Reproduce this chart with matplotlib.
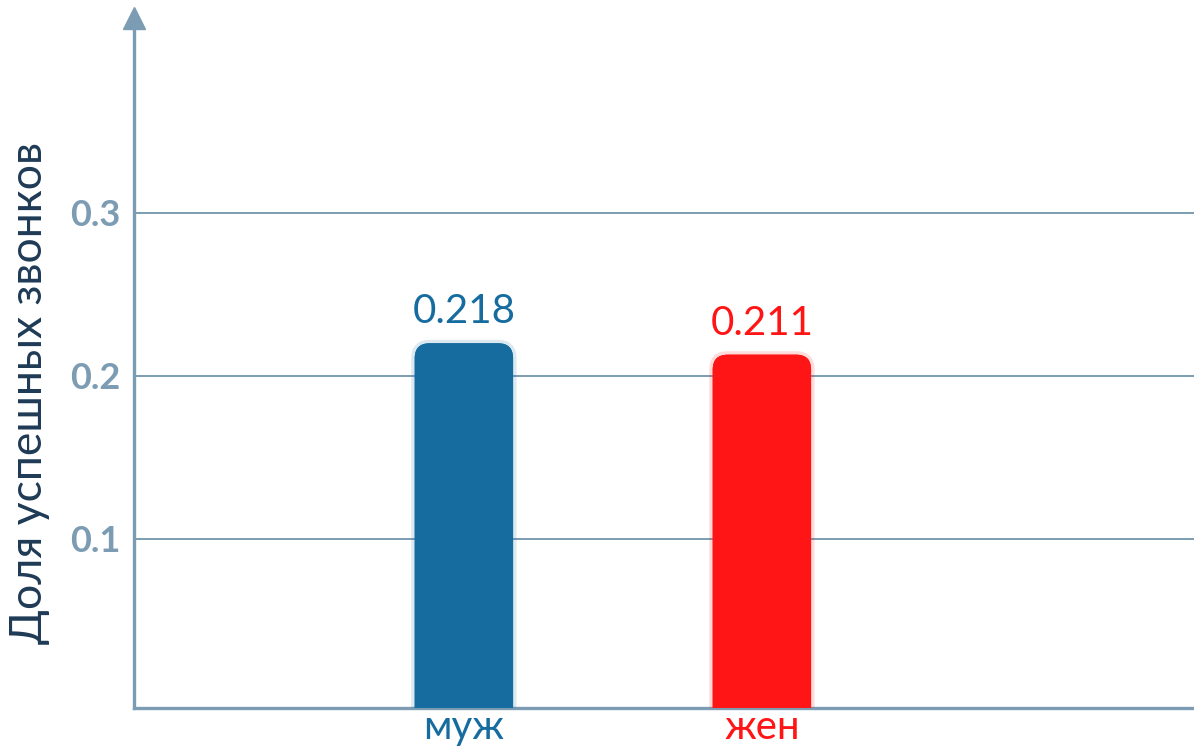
import matplotlib
matplotlib.use('Agg')
import matplotlib.pyplot as plt
from matplotlib.patches import FancyBboxPatch
import matplotlib.patheffects as pe

plt.rcParams['font.family'] = ['Lato', 'Open Sans', 'DejaVu Sans']

categories = ['муж', 'жен']
shares = [0.218, 0.211]
colors = ['#166c9f', '#ff1515']
yticks = [0.1, 0.2, 0.3]

axis_col = '#7b9cb2'

fig = plt.figure(figsize=(11.94, 7.51), dpi=100)
ax = fig.add_axes([134 / 1194, 43 / 751, 1 - 134 / 1194, 690 / 751])
ymin, ymax = -0.0037, 0.4195
ax.set_xlim(-1.107, 2.45)
ax.set_ylim(ymin, ymax)

# scale ratio so rounded corners look circular
x_per_px = (2.45 + 1.107) / (1194 - 134)
y_per_px = (ymax - ymin) / 690
aspect = y_per_px / x_per_px

bars = ax.bar(range(len(categories)), shares, width=0.33, color=colors)
for b, c, v in zip(bars, colors, shares):
    b.set_visible(False)
    x0, w, h = b.get_x(), b.get_width(), b.get_height()
    p = FancyBboxPatch((x0, -0.05), w, h + 0.05 + 0.002,
                       boxstyle='round,pad=0,rounding_size=0.05',
                       mutation_aspect=aspect, facecolor=c, edgecolor='none',
                       zorder=3)
    p.set_path_effects([pe.withStroke(linewidth=5, foreground=c, alpha=0.15),
                        pe.Normal()])
    ax.add_patch(p)
    ax.text(x0 + w / 2, h + 0.01, f'{v:.3f}', ha='center', va='bottom',
            color=c, fontsize=29)

for t in yticks:
    ax.axhline(t, color=axis_col, lw=1.4, zorder=1)

ax.set_yticks(yticks)
ax.set_yticklabels([str(t) for t in yticks], fontsize=26, color=axis_col,
                   fontweight='bold')
ax.set_xticks(range(len(categories)))
ax.set_xticklabels(categories, fontsize=29)
for lbl, c in zip(ax.get_xticklabels(), colors):
    lbl.set_color(c)
ax.tick_params(length=0)
ax.tick_params(axis='y', pad=10)
ax.tick_params(axis='x', pad=1)

for s in ['top', 'right']:
    ax.spines[s].set_visible(False)
for s in ['left', 'bottom']:
    ax.spines[s].set_color(axis_col)
    ax.spines[s].set_linewidth(2.4)

ax.plot([0], [1], marker='^', markersize=16, color=axis_col,
        transform=ax.transAxes, clip_on=False, zorder=5)

fig.text(30 / 1194, 1 - 393 / 751, 'Доля успешных звонков', rotation=90,
         ha='center', va='center', fontsize=32, color='#1f3a55')

fig.savefig('out.png', dpi=100)
